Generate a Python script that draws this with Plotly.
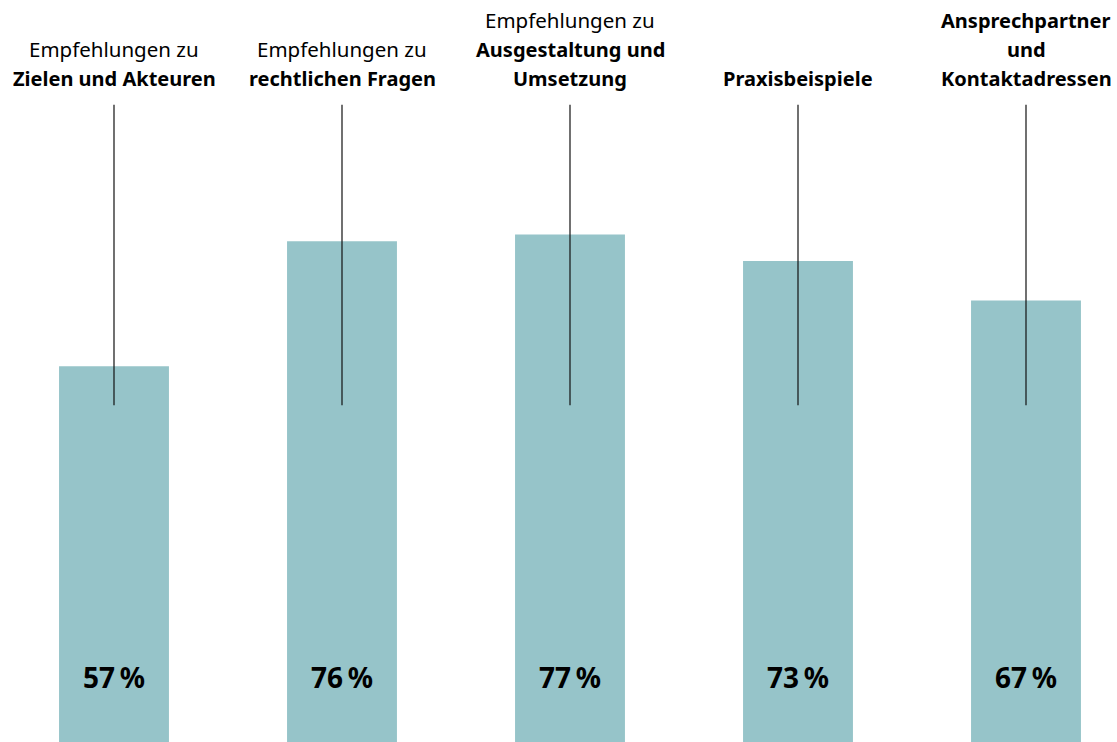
import plotly.graph_objects as go

categories_light = ["Empfehlungen zu", "Empfehlungen zu", "Empfehlungen zu", "", ""]
categories_bold = ["Zielen und Akteuren", "rechtlichen Fragen", "Ausgestaltung und<br>Umsetzung",
                   "Praxisbeispiele", "Ansprechpartner<br>und<br>Kontaktadressen"]
values = [57, 76, 77, 73, 67]
value_labels = ["57\u2009%", "76\u2009%", "77\u2009%", "73\u2009%", "67\u2009%"]

x = list(range(len(values)))
BAR = "#96c4c9"
FONT = "Noto Sans"

fig = go.Figure()
fig.add_trace(go.Bar(
    x=x, y=values, width=0.482, marker=dict(color=BAR, line=dict(width=0)),
    hoverinfo="skip",
))

for i in x:
    fig.add_shape(type="line", xref="x", yref="y", x0=i, x1=i, y0=51.1, y1=96.7,
                  line=dict(color="#111111", width=1.2), layer="above")
    lines = []
    if categories_light[i]:
        lines += [(l, False) for l in categories_light[i].split("<br>")]
    lines += [(l, True) for l in categories_bold[i].split("<br>")]
    n = len(lines)
    for k, (l, bold) in enumerate(lines):
        center_px = 78 - (n - 1 - k) * 29
        fig.add_annotation(x=i, xref="x", y=1, yref="paper", yanchor="middle",
                           yshift=83 - center_px,
                           text=f"<b>{l}</b>" if bold else l, showarrow=False,
                           font=dict(family=FONT, size=20 if bold else 20.5, color="black"))
    fig.add_annotation(x=i, xref="x", y=9.9, yref="y", yanchor="middle",
                       text=f"<b>{value_labels[i]}</b>", showarrow=False,
                       font=dict(family=FONT, size=28, color="black"))

fig.update_layout(
    width=1117, height=742, margin=dict(l=0, r=0, t=83, b=0),
    paper_bgcolor="white", plot_bgcolor="white", showlegend=False,
    xaxis=dict(range=[-0.5, -0.5 + 1117 / 228], visible=False, fixedrange=True),
    yaxis=dict(range=[0, 100], visible=False, fixedrange=True),
)
fig.write_html("out.html", config={"displayModeBar": False})
